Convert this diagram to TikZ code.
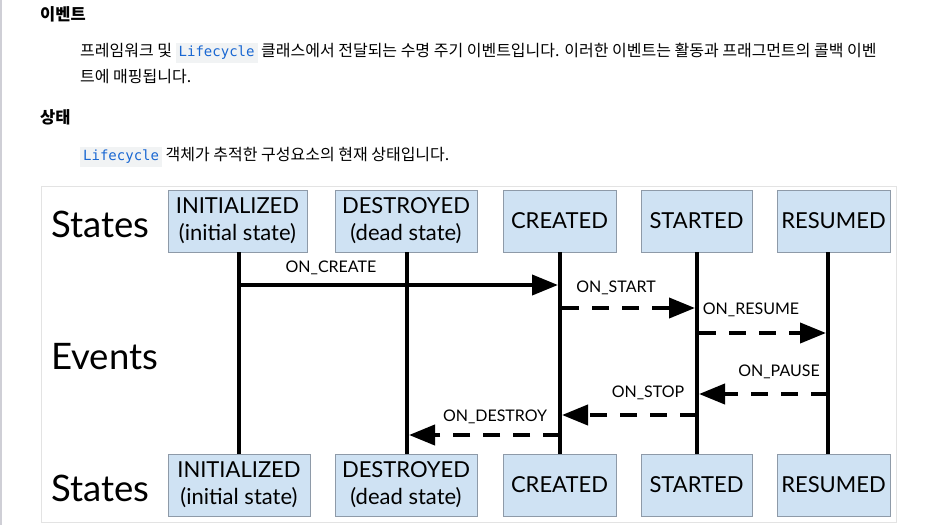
\documentclass[tikz,border=0pt]{standalone}
\usepackage{fontspec}
\usepackage{xcolor}
\usetikzlibrary{arrows.meta}
\setmainfont{Lato}
\newfontfamily\kr{Noto Sans CJK KR}
\newfontfamily\mono{DejaVu Sans Mono}
\definecolor{codebg}{HTML}{F1F3F4}
\definecolor{codeblue}{HTML}{1967D2}
\definecolor{boxfill}{HTML}{CFE2F3}
\definecolor{boxline}{HTML}{8E9AA8}
\definecolor{frameline}{HTML}{E3E3E3}
\definecolor{pageline}{HTML}{CFCFD6}
\newcommand{\codeword}[1]{{\setlength{\fboxsep}{3pt}\colorbox{codebg}{\textcolor{codeblue}{\mono\fontsize{14}{16}\selectfont #1}}}}
\tikzset{
  statebox/.style={draw=boxline, line width=0.8pt, fill=boxfill, align=center,
    font=\fontsize{22}{27}\selectfont, inner sep=0pt, minimum height=62pt},
  side/.style={anchor=west, font=\fontsize{36.5}{40}\selectfont, inner sep=0pt},
  evlabel/.style={font=\fontsize{16}{18}\selectfont, inner sep=0pt},
  life/.style={line width=4pt},
  evsolid/.style={line width=4pt, -{Triangle[length=26pt,width=20pt]}},
  evdash/.style={line width=4pt, dash pattern=on 17pt off 13pt, -{Triangle[length=26pt,width=20pt]}},
  ktext/.style={anchor=west, inner sep=0pt, font=\kr\fontsize{16}{18}\selectfont},
  khead/.style={anchor=west, inner sep=0pt, font=\kr\bfseries\fontsize{16.5}{18}\selectfont}
}
\begin{document}
\begin{tikzpicture}[x=1pt,y=-1pt]
\useasboundingbox (0,0) rectangle (930,525);
\fill[white] (0,0) rectangle (930,525);
\draw[pageline, line width=2pt] (1,0) -- (1,525);

% header text
\node[khead] (h1) at (40,14) {이벤트};
\node[ktext] (p1) at (80,53) {프레임워크 및 \codeword{Lifecycle} 클래스에서 전달되는 수명 주기 이벤트입니다. 이러한 이벤트는 활동과 프래그먼트의 콜백 이벤};
\node[ktext] (p2) at (80,77) {트에 매핑됩니다.};
\node[khead] (h2) at (40,117) {상태};
\node[ktext] (p3) at (80,157) {\codeword{Lifecycle} 객체가 추적한 구성요소의 현재 상태입니다.};

% frame
\draw[frameline, line width=1pt] (41.5,186.5) rectangle (896,522);

% side labels
\node[side] (s1) at (51,224) {States};
\node[side] (ev) at (51,357) {Events};
\node[side] (s2) at (51,488) {States};

% top boxes
\node[statebox, minimum width=139pt] (i1) at (237.5,221) {INITIALIZED\\(initial state)};
\node[statebox, minimum width=142pt] (d1) at (406,221) {DESTROYED\\(dead state)};
\node[statebox, minimum width=113pt] (c1) at (559.5,221) {CREATED};
\node[statebox, minimum width=111pt] (t1) at (696.5,221) {STARTED};
\node[statebox, minimum width=113pt] (r1) at (833.5,221) {RESUMED};
% bottom boxes
\node[statebox, minimum width=142pt] (i2) at (239,485) {INITIALIZED\\(initial state)};
\node[statebox, minimum width=142pt] (d2) at (406,485) {DESTROYED\\(dead state)};
\node[statebox, minimum width=113pt] (c2) at (559.5,485) {CREATED};
\node[statebox, minimum width=111pt] (t2) at (696.5,485) {STARTED};
\node[statebox, minimum width=113pt] (r2) at (833.5,485) {RESUMED};

% lifelines
\coordinate (Li1) at (239,252); \coordinate (Li2) at (239,454);
\coordinate (Ld1) at (407,252); \coordinate (Ld2) at (407,454);
\coordinate (Lc1) at (560,252); \coordinate (Lc2) at (560,454);
\coordinate (Lt1) at (697,252); \coordinate (Lt2) at (697,454);
\coordinate (Lr1) at (828,252); \coordinate (Lr2) at (828,454);
\draw[life] (Li1) -- (Li2);
\draw[life] (Ld1) -- (Ld2);
\draw[life] (Lc1) -- (Lc2);
\draw[life] (Lt1) -- (Lt2);
\draw[life] (Lr1) -- (Lr2);

% event rows
\coordinate (y1) at (0,285);
\coordinate (y2) at (0,308);
\coordinate (y3) at (0,333);
\coordinate (y4) at (0,394);
\coordinate (y5) at (0,415);
\coordinate (y6) at (0,435);

\draw[evsolid] ([xshift=2pt]Li1 |- y1) -- ([xshift=-2pt]Lc1 |- y1);
\draw[evdash] ([xshift=2pt]Lc1 |- y2) -- ([xshift=-2pt]Lt1 |- y2);
\draw[evdash] ([xshift=2pt]Lt1 |- y3) -- ([xshift=-2pt]Lr1 |- y3);
\draw[evdash] (Lr1 |- y4) -- ([xshift=2pt]Lt1 |- y4);
\draw[evdash] (Lt1 |- y5) -- ([xshift=2pt]Lc1 |- y5);
\draw[evdash] (Lc1 |- y6) -- ([xshift=2pt]Ld1 |- y6);

\node[evlabel] (e1) at (331,268) {ON\_CREATE};
\node[evlabel] (e2) at (616,288) {ON\_START};
\node[evlabel] (e3) at (751,310) {ON\_RESUME};
\node[evlabel] (e4) at (779,372) {ON\_PAUSE};
\node[evlabel] (e5) at (648,393) {ON\_STOP};
\node[evlabel] (e6) at (495,417) {ON\_DESTROY};
\end{tikzpicture}
\end{document}
